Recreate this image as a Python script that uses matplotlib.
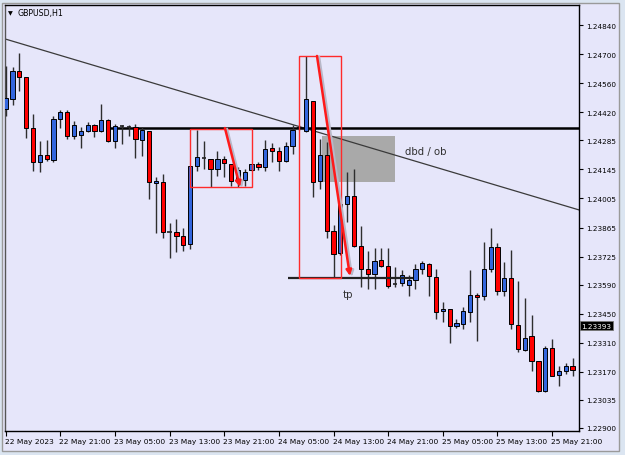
import matplotlib
matplotlib.use("Agg")
import matplotlib.pyplot as plt
from matplotlib.patches import Rectangle
import matplotlib.transforms as mtransforms

# ---------------- data (GBPUSD H1, 22 May 13:00 -> 26 May 00:00) ----------------
opens = [1.24436, 1.24484, 1.24619, 1.24590, 1.24345, 1.24181, 1.24215, 1.24191, 1.24388, 1.24422,
         1.24306, 1.24311, 1.24330, 1.24359, 1.24330, 1.24383, 1.24282, 1.24354, 1.24349, 1.24349,
         1.24287, 1.24330, 1.24080, 1.24085, 1.23844, 1.23844, 1.23825, 1.23787, 1.24162, 1.24200,
         1.24195, 1.24147, 1.24195, 1.24171, 1.24099, 1.24094, 1.24143, 1.24171, 1.24157, 1.24248,
         1.24234, 1.24186, 1.24258, 1.24345, 1.24330, 1.24474, 1.24090, 1.24215, 1.23849, 1.23743,
         1.23979, 1.24017, 1.23777, 1.23666, 1.23642, 1.23710, 1.23681, 1.23594, 1.23599, 1.23589,
         1.23613, 1.23666, 1.23690, 1.23628, 1.23464, 1.23474, 1.23392, 1.23402, 1.23460, 1.23541,
         1.23536, 1.23666, 1.23772, 1.23561, 1.23623, 1.23397, 1.23277, 1.23344, 1.23224, 1.23080,
         1.23286, 1.23156, 1.23176, 1.23200]
highs = [1.24643, 1.24638, 1.24705, 1.24590, 1.24412, 1.24282, 1.24287, 1.24402, 1.24431, 1.24431,
         1.24378, 1.24349, 1.24373, 1.24364, 1.24460, 1.24388, 1.24364, 1.24359, 1.24359, 1.24364,
         1.24349, 1.24330, 1.24109, 1.24123, 1.23888, 1.23907, 1.23864, 1.24162, 1.24335, 1.24282,
         1.24195, 1.24234, 1.24210, 1.24171, 1.24157, 1.24147, 1.24171, 1.24181, 1.24287, 1.24272,
         1.24253, 1.24277, 1.24359, 1.24359, 1.24691, 1.24474, 1.24292, 1.24277, 1.23878, 1.23979,
         1.24133, 1.24147, 1.23873, 1.23753, 1.23767, 1.23767, 1.23767, 1.23676, 1.23662, 1.23637,
         1.23690, 1.23705, 1.23695, 1.23666, 1.23508, 1.23474, 1.23426, 1.23484, 1.23662, 1.23551,
         1.23796, 1.23864, 1.23791, 1.23700, 1.23758, 1.23609, 1.23527, 1.23445, 1.23224, 1.23296,
         1.23330, 1.23200, 1.23214, 1.23238]
lows = [1.24402, 1.24455, 1.24523, 1.24296, 1.24138, 1.24133, 1.24186, 1.24181, 1.24345, 1.24292,
        1.24292, 1.24248, 1.24325, 1.24301, 1.24325, 1.24277, 1.24248, 1.24268, 1.24306, 1.24200,
        1.24210, 1.24003, 1.23840, 1.23815, 1.23719, 1.23748, 1.23753, 1.23763, 1.24138, 1.24147,
        1.24061, 1.24114, 1.24109, 1.24066, 1.24061, 1.24066, 1.24138, 1.24143, 1.24138, 1.24181,
        1.24138, 1.24181, 1.24220, 1.24335, 1.24325, 1.24013, 1.24051, 1.23815, 1.23628, 1.23734,
        1.23892, 1.23772, 1.23580, 1.23570, 1.23570, 1.23676, 1.23575, 1.23580, 1.23585, 1.23536,
        1.23570, 1.23642, 1.23536, 1.23426, 1.23411, 1.23310, 1.23383, 1.23378, 1.23411, 1.23320,
        1.23517, 1.23652, 1.23541, 1.23536, 1.23378, 1.23267, 1.23272, 1.23176, 1.23075, 1.23075,
        1.23152, 1.23104, 1.23161, 1.23152]
closes = [1.24489, 1.24619, 1.24590, 1.24345, 1.24181, 1.24215, 1.24195, 1.24388, 1.24422, 1.24306,
          1.24359, 1.24330, 1.24359, 1.24330, 1.24383, 1.24282, 1.24354, 1.24352, 1.24348, 1.24292,
          1.24335, 1.24085, 1.24090, 1.23844, 1.23845, 1.23825, 1.23782, 1.24162, 1.24205, 1.24201,
          1.24147, 1.24195, 1.24176, 1.24090, 1.24143, 1.24133, 1.24171, 1.24157, 1.24244, 1.24234,
          1.24186, 1.24258, 1.24335, 1.24349, 1.24484, 1.24085, 1.24215, 1.23849, 1.23739, 1.23979,
          1.24017, 1.23777, 1.23666, 1.23642, 1.23705, 1.23681, 1.23585, 1.23595, 1.23637, 1.23613,
          1.23666, 1.23695, 1.23633, 1.23460, 1.23474, 1.23392, 1.23407, 1.23464, 1.23541, 1.23532,
          1.23666, 1.23772, 1.23561, 1.23623, 1.23402, 1.23282, 1.23334, 1.23224, 1.23080, 1.23286,
          1.23152, 1.23176, 1.23200, 1.23181]

x_tick_bars = [0, 8, 16, 24, 32, 40, 48, 56, 64, 72, 80]
x_tick_labels = ["22 May 2023", "22 May 21:00", "23 May 05:00", "23 May 13:00", "23 May 21:00",
                 "24 May 05:00", "24 May 13:00", "24 May 21:00", "25 May 05:00", "25 May 13:00",
                 "25 May 21:00"]
y_ticks = [1.24840, 1.24700, 1.24560, 1.24420, 1.24285, 1.24145, 1.24005, 1.23865, 1.23725,
           1.23590, 1.23450, 1.23310, 1.23170, 1.23035, 1.22900]
y_tick_labels = ["%.5f" % v for v in y_ticks]

bid_price = 1.23393
resistance_level = 1.24342
tp_level = 1.23622
trend_p1 = (0, 1.24772)
trend_p2 = (83, 1.23959)

# ---------------- figure ----------------
W, H = 625, 456
fig = plt.figure(figsize=(W / 100, H / 100), dpi=100)
fig.patch.set_facecolor("#dbe5f1")
LAV = "#e6e6fa"

# chart window
win = Rectangle((2 / W, 1 - 452 / H), 617 / W, 448 / H, transform=fig.transFigure,
                facecolor=LAV, edgecolor="#9a9a9a", lw=1.0, zorder=-10)
fig.patches.append(win)

ax = fig.add_axes([5 / W, 1 - 432 / H, 574 / W, 426 / H])
ax.set_zorder(5)
ax.set_facecolor(LAV)
ax.set_xlim(-0.1, 83.94)
ax.set_ylim(1.228855, 1.249363)

n = len(opens)
xs = list(range(n))

# grey order-block zone (behind candles)
ax.add_patch(Rectangle((46.3, 1.24084), 57.0 - 46.3, 1.24306 - 1.24084,
                       facecolor="#a9a9a9", edgecolor="none", zorder=1))

# trend line
ax.axline(trend_p1, trend_p2, color="#3a3a3a", lw=0.9, zorder=2)

# resistance line
ax.plot([15, 83.94], [resistance_level, resistance_level], color="black", lw=1.8,
        zorder=2, solid_capstyle="butt")

# tp line
ax.plot([41.3, 59.6], [tp_level, tp_level], color="#222222", lw=1.6, zorder=5,
        solid_capstyle="butt")

# candles
bw = 0.62
for i in xs:
    o, h, l, c = opens[i], highs[i], lows[i], closes[i]
    ax.vlines(i, l, h, color="#2e2e2e", lw=1.0, zorder=3)
    if abs(c - o) < 0.00004:
        ax.hlines((o + c) / 2, i - bw / 2, i + bw / 2, color="#222222", lw=1.2, zorder=4)
    else:
        col = "#3366dd" if c > o else "#ff0000"
        ax.bar(i, c - o, bottom=o, width=bw, color=col, edgecolor="black", lw=0.7, zorder=4)

# red boxes
ax.add_patch(Rectangle((26.98, 1.24060), 36.06 - 26.98, 1.24339 - 1.24060,
                       facecolor="none", edgecolor="#ff2a2a", lw=1.0, zorder=6))
ax.add_patch(Rectangle((42.94, 1.23622), 49.09 - 42.94, 1.24691 - 1.23622,
                       facecolor="none", edgecolor="#ff2a2a", lw=1.0, zorder=6))

# red arrows
for (x0, y0, x1, y1) in [(32.1, 1.24344, 34.3, 1.24060), (45.58, 1.24691, 50.4, 1.23632)]:
    ax.annotate("", xy=(x1 + 0.3, y1 - 0.00004), xytext=(x0 + 0.3, y0 - 0.00004),
                arrowprops=dict(arrowstyle="-|>", color="#b8b8c8", lw=1.8, mutation_scale=8,
                                shrinkA=0, shrinkB=0), zorder=6)
    ax.annotate("", xy=(x1, y1), xytext=(x0, y0),
                arrowprops=dict(arrowstyle="-|>", color="#ff1a1a", lw=1.8, mutation_scale=8,
                                shrinkA=0, shrinkB=0), zorder=7)

# labels
ax.text(58.5, 1.24234, "dbd / ob", fontsize=7.3, color="#303030", va="center", ha="left", zorder=8)
ax.text(49.4, 1.23543, "tp", fontsize=7.3, color="#303030", va="center", ha="left", zorder=8)

# axes styling
for s in ["top", "right", "bottom"]:
    ax.spines[s].set_color("black")
    ax.spines[s].set_linewidth(1.0)
ax.spines["left"].set_color("#555555")
ax.spines["left"].set_linewidth(1.0)

ax.yaxis.tick_right()
ax.set_yticks(y_ticks)
ax.set_yticklabels(y_tick_labels)
ax.tick_params(axis="y", direction="out", length=3, width=0.8, pad=2, labelsize=5.2,
               colors="black")
ax.set_xticks(x_tick_bars)
ax.set_xticklabels(x_tick_labels, ha="left")
ax.tick_params(axis="x", direction="out", length=3.5, width=0.8, pad=1.5, labelsize=5.4,
               colors="black")
for lbl in ax.get_xticklabels():
    lbl.set_transform(lbl.get_transform() + mtransforms.ScaledTranslation(-1 / 100, 0, fig.dpi_scale_trans))

# bid price label
trans = mtransforms.blended_transform_factory(ax.transAxes, ax.transData)
ax.text(1.0045, bid_price, "%.5f" % bid_price, transform=trans, fontsize=5.2, color="white",
        va="center", ha="left", clip_on=False, zorder=10,
        bbox=dict(boxstyle="square,pad=0.25", facecolor="black", edgecolor="#777777", lw=0.6))

# title
ax.text(8 / W, 1 - 13.5 / H, "\u25bc", fontsize=4.5, color="black", va="center", ha="left",
        transform=fig.transFigure, zorder=20)
ax.text(17 / W, 1 - 13.5 / H, "GBPUSD,H1", fontsize=5.7, color="black", va="center", ha="left",
        transform=fig.transFigure, zorder=20)

fig.savefig("out.png", dpi=100, facecolor=fig.get_facecolor())
